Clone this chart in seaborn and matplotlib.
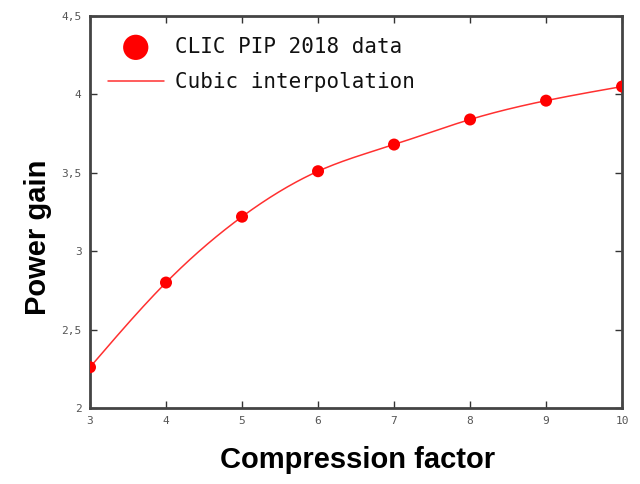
import numpy as np
import pandas as pd
import matplotlib
matplotlib.use("Agg")
import matplotlib.pyplot as plt
import seaborn as sns

# CLIC PIP 2018 power gain vs compression factor
compression = [3, 4, 5, 6, 7, 8, 9, 10]
power_gain = [2.26, 2.80, 3.22, 3.51, 3.68, 3.84, 3.96, 4.05]
x_ticks = [3, 4, 5, 6, 7, 8, 9, 10]
y_ticks = [2, 2.5, 3, 3.5, 4, 4.5]
y_tick_labels = ["2", "2,5", "3", "3,5", "4", "4,5"]


def natural_cubic_spline(x, y, xs):
    x = np.asarray(x, float)
    y = np.asarray(y, float)
    n = len(x)
    h = np.diff(x)
    A = np.zeros((n, n))
    b = np.zeros(n)
    A[0, 0] = A[-1, -1] = 1.0
    for i in range(1, n - 1):
        A[i, i - 1] = h[i - 1]
        A[i, i] = 2 * (h[i - 1] + h[i])
        A[i, i + 1] = h[i]
        b[i] = 3 * ((y[i + 1] - y[i]) / h[i] - (y[i] - y[i - 1]) / h[i - 1])
    c = np.linalg.solve(A, b)
    out = np.empty_like(xs)
    for k, xv in enumerate(xs):
        i = min(np.searchsorted(x, xv, side="right") - 1, n - 2)
        i = max(i, 0)
        dx = xv - x[i]
        bb = (y[i + 1] - y[i]) / h[i] - h[i] * (2 * c[i] + c[i + 1]) / 3
        d = (c[i + 1] - c[i]) / (3 * h[i])
        out[k] = y[i] + bb * dx + c[i] * dx ** 2 + d * dx ** 3
    return out


df = pd.DataFrame({"compression": compression, "gain": power_gain})
xs = np.linspace(min(compression), max(compression), 300)
curve = pd.DataFrame({"compression": xs, "gain": natural_cubic_spline(compression, power_gain, xs)})

sns.set_style("white")
fig = plt.figure(figsize=(6.4, 4.84), dpi=100)
ax = fig.add_axes([0.1406, 0.157, 0.8314, 0.810])

sns.lineplot(data=curve, x="compression", y="gain", ax=ax, color="#ff3030",
             linewidth=1.1, label="Cubic interpolation")
sns.scatterplot(data=df, x="compression", y="gain", ax=ax, color="#ff0000",
                s=75, edgecolor="none", label="CLIC PIP 2018 data", zorder=5)

ax.set_xlim(3, 10)
ax.set_ylim(2, 4.5)
ax.set_xticks(x_ticks)
ax.set_yticks(y_ticks)
ax.set_yticklabels(y_tick_labels)
ax.tick_params(direction="in", length=5, width=1, color="#333333",
               labelsize=8, labelcolor="#555555", top=True, right=True,
               bottom=True, left=True, pad=6)
for tl in ax.get_xticklabels() + ax.get_yticklabels():
    tl.set_family("DejaVu Sans Mono")
for sp in ax.spines.values():
    sp.set_color("#444444")
    sp.set_linewidth(2)
    sp.set_visible(True)

ax.set_xlabel("Compression factor", fontsize=21, fontweight="bold",
              family="Liberation Sans", color="black")
ax.set_ylabel("Power gain", fontsize=21, fontweight="bold",
              family="Liberation Sans", color="black")
ax.xaxis.set_label_coords(0.503, -0.096)
ax.yaxis.set_label_coords(-0.072, 0.436)

handles, labels = ax.get_legend_handles_labels()
order = [labels.index("CLIC PIP 2018 data"), labels.index("Cubic interpolation")]
leg = ax.legend([handles[i] for i in order], [labels[i] for i in order],
                loc="upper left", bbox_to_anchor=(-0.006, 1.0),
                frameon=False, markerscale=2.1,
                prop={"family": "DejaVu Sans Mono", "size": 15},
                handlelength=2.7, handletextpad=0.55, borderpad=0.5,
                borderaxespad=0.5, labelspacing=0.75)
for t in leg.get_texts():
    t.set_color("#111111")

fig.savefig("out.png", dpi=100)
